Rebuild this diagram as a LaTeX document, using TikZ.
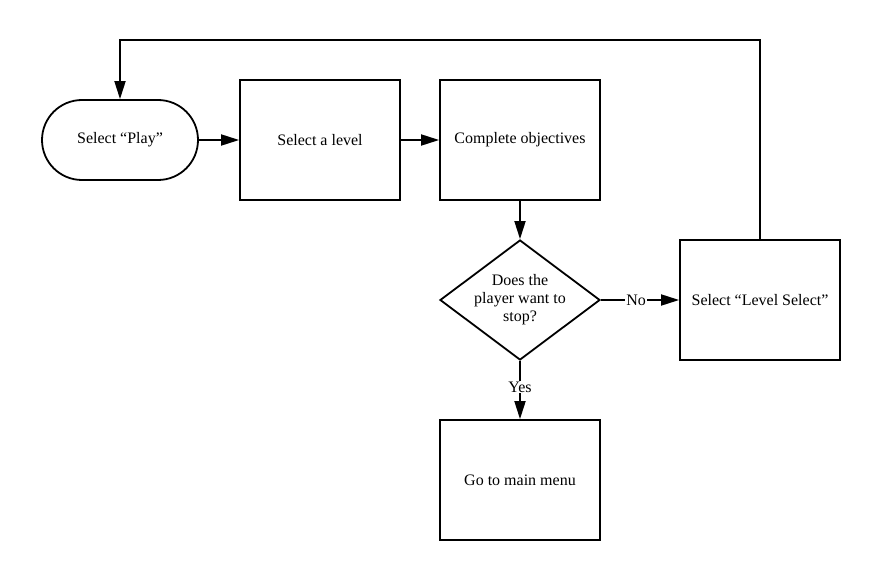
\documentclass[tikz,border=0pt]{standalone}
\usepackage{fontspec}
\setmainfont{Liberation Serif}
\usetikzlibrary{shapes.geometric,shapes.misc,arrows.meta}
\begin{document}
\begin{tikzpicture}[x=1pt,y=-1pt,
  base/.style={draw,line width=1.8pt,font=\fontsize{16}{18}\selectfont,align=center,inner sep=2pt},
  boxnode/.style={base,rectangle,minimum width=160pt,minimum height=120pt},
  termnode/.style={base,rounded rectangle,minimum width=160pt,minimum height=80pt},
  decnode/.style={base,diamond,minimum width=160pt,minimum height=120pt,aspect=1.333,inner sep=0pt},
  conn/.style={line width=1.8pt,-{Triangle[length=18pt,width=11pt]}},
  lbl/.style={fill=white,font=\fontsize{16}{18}\selectfont,inner sep=1pt}]
\useasboundingbox (0,0) rectangle (880,580);
\fill[white] (0,0) rectangle (880,580);
\node[termnode] (play) at (120,140) {Select ``Play''};
\node[boxnode] (level) at (320,140) {Select a level};
\node[boxnode] (obj) at (520,140) {Complete objectives};
\node[decnode] (dec) at (520,300) {Does the\\player want to\\stop?};
\node[boxnode] (lsel) at (760,300) {Select ``Level Select''};
\node[boxnode] (menu) at (520,480) {Go to main menu};
\coordinate (c1) at (760,40);
\coordinate (c2) at (120,40);
\draw[conn] (play) -- (level);
\draw[conn] (level) -- (obj);
\draw[conn] (obj) -- (dec);
\draw[conn] (dec) -- node[lbl,pos=0.45] {No} (lsel);
\draw[conn] (dec) -- node[lbl,pos=0.45] {Yes} (menu);
\draw[conn] (lsel.north) -- (c1) -- (c2) -- (play.north);
\end{tikzpicture}
\end{document}
